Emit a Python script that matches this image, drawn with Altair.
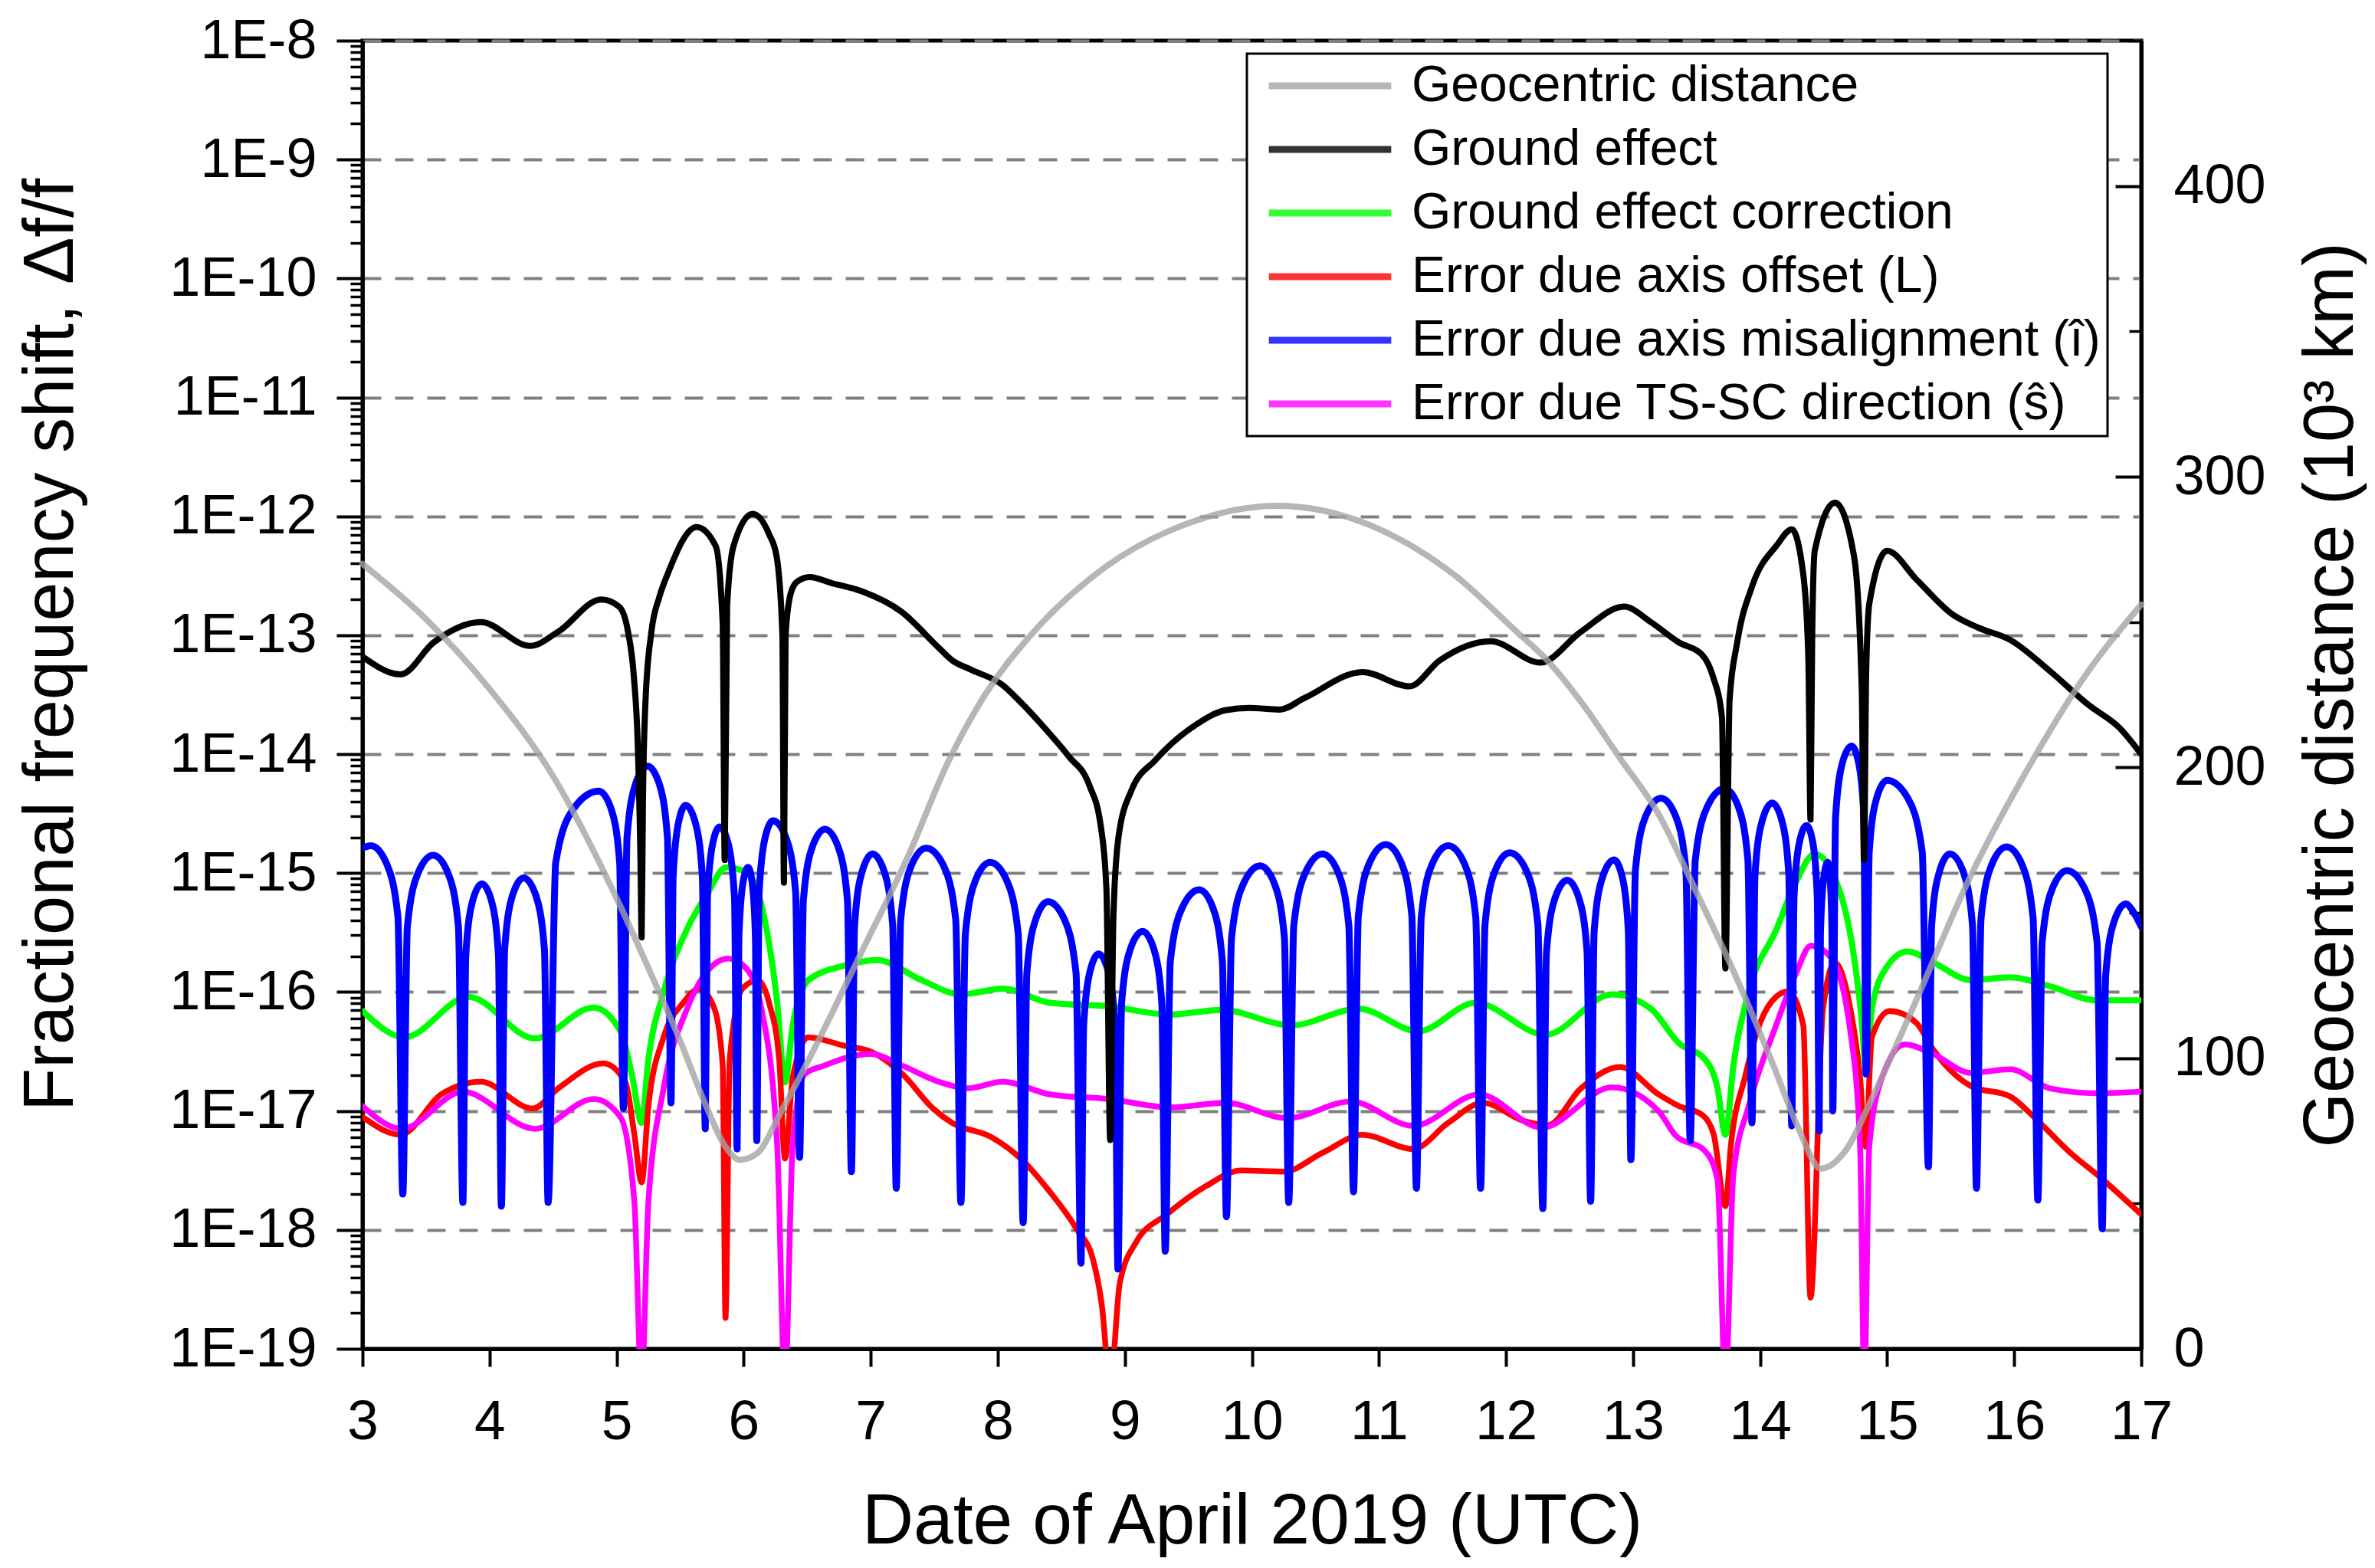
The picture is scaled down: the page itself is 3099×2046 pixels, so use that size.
import altair as alt
import pandas as pd

FONT = "Liberation Sans"

SERIES = [
    "Geocentric distance",
    "Ground effect",
    "Ground effect correction",
    "Error due axis offset (L)",
    "Error due axis misalignment (î)",
    "Error due TS-SC direction (ŝ)",
]
COLORS = ["#a4a4a4", "#000000", "#00ff00", "#ff0000", "#0000ff", "#ff00ff"]

X_TICKS = list(range(3, 18))
Y_MAJOR = [1e-19, 1e-18, 1e-17, 1e-16, 1e-15, 1e-14, 1e-13, 1e-12, 1e-11, 1e-10, 1e-9, 1e-8]
Y_MINOR = [m * 10.0 ** k for k in range(-19, -8) for m in range(2, 10)]
DIST_MAJOR = [0, 100, 200, 300, 400]
DIST_MINOR = [50, 150, 250, 350, 450]

# Geocentric distance (10^3 km), right axis
GEO_DAY = [3.0, 3.5, 4.0, 4.5, 5.0, 5.25, 5.5, 5.7, 5.85, 5.97, 6.1, 6.3, 6.6, 6.9, 7.3, 7.6, 7.9,
           8.25, 8.85, 9.5, 10.2, 11.0, 11.6, 12.1, 12.3, 12.6, 12.9, 13.2, 13.5, 13.8, 14.1, 14.3,
           14.48, 14.67, 14.89, 15.2, 15.65, 16.1, 16.55, 17.0]
GEO_DIST = [270, 251, 227, 197, 155, 131, 106, 84, 70, 65, 67, 82, 107, 134, 170, 201, 225,
            245, 269, 284, 290, 282, 266, 246, 238, 222, 203, 184, 157, 129, 98, 76,
            62, 68, 87, 117, 162, 199, 231, 256]

# Ground effect (black)
GROUND_DAY = [3.0, 3.3, 3.56, 3.93, 4.32, 4.54, 4.88, 5.02, 5.09, 5.136, 5.167, 5.188, 5.197, 5.207,
              5.228, 5.274, 5.336, 5.4, 5.63, 5.78, 5.835, 5.851, 5.87, 5.92, 6.07, 6.2, 6.26, 6.305,
              6.317, 6.33, 6.37, 6.42, 6.52, 6.69, 6.93, 7.24, 7.54, 7.64, 7.79, 8.04, 8.16, 8.41,
              8.56, 8.72, 8.81, 8.855, 8.885, 8.91, 8.95, 9.05, 9.24, 9.55, 9.79, 9.98, 10.22, 10.41,
              10.87, 11.24, 11.48, 11.88, 12.27, 12.59, 12.93, 13.14, 13.36, 13.54, 13.63, 13.7,
              13.727, 13.76, 13.82, 13.94, 14.13, 14.25, 14.34, 14.38, 14.397, 14.41, 14.43, 14.59,
              14.74, 14.8, 14.818, 14.835, 14.86, 15.0, 15.23, 15.51, 15.725, 15.97, 16.28, 16.59,
              16.83, 17.0]
GROUND_VAL = [6.61e-14, 4.68e-14, 8.71e-14, 1.29e-13, 8.13e-14, 1.07e-13, 2.0e-13, 1.74e-13, 1.07e-13,
              4.47e-14, 1.17e-14, 1.29e-15, 2.88e-16, 3.89e-15, 2.88e-14, 1.07e-13, 2.09e-13, 3.24e-13,
              8.13e-13, 5.62e-13, 1.26e-13, 1.29e-15, 1.78e-13, 5.62e-13, 1.05e-12, 7.08e-13, 4.57e-13,
              1.0e-13, 8.32e-16, 1.0e-13, 2.24e-13, 2.82e-13, 3.09e-13, 2.75e-13, 2.34e-13, 1.58e-13,
              7.76e-14, 6.17e-14, 5.13e-14, 3.80e-14, 2.88e-14, 1.48e-14, 9.55e-15, 5.50e-15, 2.51e-15,
              7.41e-16, 5.69e-18, 4.27e-16, 2.0e-15, 4.90e-15, 8.91e-15, 1.74e-14, 2.34e-14, 2.45e-14,
              2.37e-14, 2.95e-14, 4.90e-14, 3.72e-14, 6.17e-14, 8.91e-14, 5.89e-14, 1.07e-13, 1.74e-13,
              1.29e-13, 8.71e-14, 6.92e-14, 4.47e-14, 2.04e-14, 1.58e-16, 2.88e-14, 8.71e-14, 2.63e-13,
              5.69e-13, 7.76e-13, 3.24e-13, 6.31e-14, 2.82e-15, 1.0e-13, 5.13e-13, 1.30e-12, 4.57e-13,
              3.55e-14, 1.29e-15, 5.01e-14, 1.86e-13, 5.13e-13, 2.95e-13, 1.51e-13, 1.15e-13, 9.12e-14,
              5.01e-14, 2.57e-14, 1.66e-14, 1.0e-14]

# Ground effect correction (green)
CORR_DAY = [3.0, 3.33, 3.835, 4.357, 4.82, 5.03, 5.125, 5.196, 5.25, 5.37, 5.555, 5.71, 5.863, 6.02,
            6.14, 6.264, 6.325, 6.386, 6.51, 6.785, 7.05, 7.4, 7.71, 8.04, 8.41, 8.87, 9.36, 9.76,
            10.31, 10.84, 11.31, 11.76, 12.31, 12.835, 13.14, 13.36, 13.57, 13.665, 13.727, 13.79,
            13.91, 14.13, 14.28, 14.43, 14.62, 14.74, 14.8, 14.83, 14.88, 14.99, 15.16, 15.36, 15.66,
            15.97, 16.28, 16.65, 17.0]
CORR_VAL = [6.92e-17, 4.17e-17, 9.12e-17, 4.07e-17, 7.41e-17, 4.68e-17, 1.91e-17, 7.94e-18, 2.69e-17,
            1.0e-16, 3.39e-16, 6.61e-16, 1.12e-15, 1.02e-15, 5.37e-16, 8.13e-17, 1.74e-17, 5.25e-17,
            1.26e-16, 1.66e-16, 1.86e-16, 1.26e-16, 9.55e-17, 1.07e-16, 8.13e-17, 7.59e-17, 6.46e-17,
            7.08e-17, 5.25e-17, 7.24e-17, 4.68e-17, 8.13e-17, 4.37e-17, 9.55e-17, 7.24e-17, 3.72e-17,
            2.69e-17, 1.55e-17, 6.31e-18, 2.40e-17, 1.0e-16, 3.39e-16, 8.32e-16, 1.45e-15, 7.41e-16,
            1.95e-16, 5.75e-17, 2.40e-17, 7.24e-17, 1.58e-16, 2.19e-16, 1.78e-16, 1.26e-16, 1.33e-16,
            1.12e-16, 8.51e-17, 8.51e-17]

# Error due axis offset (red)
AXOFF_DAY = [3.0, 3.3, 3.62, 3.93, 4.34, 4.54, 4.895, 5.07, 5.14, 5.197, 5.25, 5.37, 5.525, 5.65, 5.77,
             5.835, 5.857, 5.89, 5.99, 6.11, 6.2, 6.28, 6.325, 6.386, 6.51, 6.785, 7.0, 7.25, 7.49,
             7.64, 7.95, 8.19, 8.41, 8.62, 8.75, 8.82, 8.885, 8.96, 9.085, 9.33, 9.64, 9.915, 10.25,
             10.56, 10.87, 11.27, 11.545, 11.82, 12.13, 12.33, 12.59, 12.9, 13.2, 13.36, 13.54, 13.635,
             13.727, 13.77, 13.88, 14.0, 14.126, 14.22, 14.34, 14.397, 14.495, 14.588, 14.71, 14.787,
             14.83, 14.88, 15.02, 15.23, 15.36, 15.66, 15.97, 16.155, 16.43, 16.68, 17.0]
AXOFF_VAL = [8.91e-18, 6.31e-18, 1.38e-17, 1.76e-17, 1.05e-17, 1.55e-17, 2.51e-17, 1.74e-17, 6.31e-18,
             2.51e-18, 1.10e-17, 4.17e-17, 8.13e-17, 1.07e-16, 7.24e-17, 2.40e-17, 1.82e-19, 2.69e-17,
             1.07e-16, 1.26e-16, 8.13e-17, 2.69e-17, 3.98e-18, 1.91e-17, 4.17e-17, 3.55e-17, 3.16e-17,
             2.04e-17, 1.05e-17, 7.94e-18, 6.03e-18, 3.89e-18, 2.09e-18, 1.02e-18, 5.62e-19, 2.29e-19,
             5.0e-20, 3.55e-19, 7.76e-19, 1.35e-18, 2.34e-18, 3.16e-18, 3.09e-18, 4.47e-18, 6.31e-18,
             4.79e-18, 7.94e-18, 1.17e-17, 8.32e-18, 7.59e-18, 1.55e-17, 2.34e-17, 1.38e-17, 1.10e-17,
             9.33e-18, 6.31e-18, 1.58e-18, 5.13e-18, 1.91e-17, 5.50e-17, 9.12e-17, 1.01e-16, 5.25e-17,
             2.69e-19, 7.24e-17, 1.76e-16, 7.24e-17, 1.91e-17, 5.01e-18, 4.17e-17, 6.92e-17, 5.50e-17,
             3.31e-17, 1.62e-17, 1.32e-17, 8.91e-18, 4.57e-18, 2.75e-18, 1.35e-18]

# Error due axis misalignment (blue)
MISAL_DAY = [3.0, 3.066, 3.19, 3.279, 3.317,
             3.353, 3.437, 3.556, 3.673, 3.755, 3.79,
             3.813, 3.865, 3.94, 4.017, 4.07, 4.093,
             4.119, 4.18, 4.268, 4.365, 4.432, 4.461,
             4.521, 4.66, 4.86, 4.957, 5.024, 5.053,
             5.082, 5.149, 5.244, 5.336, 5.40, 5.428,
             5.445, 5.486, 5.544, 5.621, 5.675, 5.698,
             5.715, 5.755, 5.811, 5.88, 5.928, 5.949,
             5.962, 5.992, 6.035, 6.069, 6.093, 6.103,
             6.122, 6.167, 6.231, 6.336, 6.409, 6.44,
             6.47, 6.54, 6.64, 6.744, 6.817, 6.848,
             6.873, 6.931, 7.014, 7.108, 7.173, 7.201,
             7.236, 7.319, 7.437, 7.574, 7.669, 7.71,
             7.745, 7.825, 7.94, 8.07, 8.161, 8.20,
             8.229, 8.298, 8.395, 8.525, 8.616, 8.655,
             8.676, 8.725, 8.795, 8.87, 8.923, 8.946,
             8.975, 9.043, 9.14, 9.229, 9.291, 9.318,
             9.358, 9.452, 9.585, 9.693, 9.768, 9.80,
             9.84, 9.933, 10.065, 10.178, 10.256, 10.29,
             10.33, 10.423, 10.555, 10.678, 10.763, 10.80,
             10.838, 10.927, 11.054, 11.175, 11.259, 11.295,
             11.333, 11.42, 11.546, 11.673, 11.762, 11.80,
             11.835, 11.915, 12.03, 12.16, 12.251, 12.29,
             12.319, 12.386, 12.482, 12.574, 12.638, 12.666,
             12.694, 12.758, 12.85, 12.917, 12.963, 12.983,
             13.019, 13.10, 13.22, 13.335, 13.416, 13.45,
             13.49, 13.585, 13.72, 13.828, 13.904, 13.936,
             13.96, 14.016, 14.095, 14.172, 14.226, 14.249,
             14.267, 14.308, 14.366, 14.416, 14.45, 14.465,
             14.475, 14.499, 14.532, 14.552, 14.566, 14.572,
             14.594, 14.646, 14.72, 14.777, 14.817, 14.834,
             14.859, 14.917, 15.0, 15.163, 15.276, 15.325,
             15.35, 15.41, 15.494, 15.60, 15.672, 15.703,
             15.739, 15.822, 15.94, 16.063, 16.149, 16.186,
             16.22, 16.30, 16.416, 16.555, 16.652, 16.693,
             16.72, 16.785, 16.878, 16.94, 17.0]
MISAL_VAL = [1.62e-15, 1.70e-15, 1.20e-15, 4.27e-16, 2.0e-18,
             3.55e-16, 1.0e-15, 1.41e-15, 1.0e-15, 3.55e-16, 1.70e-18,
             2.04e-16, 5.75e-16, 8.13e-16, 5.75e-16, 2.04e-16, 1.58e-18,
             2.29e-16, 6.46e-16, 9.12e-16, 6.46e-16, 2.29e-16, 1.70e-18,
             1.23e-15, 3.47e-15, 4.90e-15, 3.47e-15, 1.23e-15, 1.05e-17,
             2.0e-15, 5.62e-15, 7.94e-15, 5.62e-15, 2.0e-15, 1.17e-17,
             9.33e-16, 2.63e-15, 3.72e-15, 2.63e-15, 9.33e-16, 7.08e-18,
             6.17e-16, 1.74e-15, 2.45e-15, 1.74e-15, 6.17e-16, 4.79e-18,
             2.82e-16, 7.94e-16, 1.12e-15, 7.94e-16, 2.82e-16, 5.62e-18,
             6.92e-16, 1.95e-15, 2.75e-15, 1.95e-15, 6.92e-16, 4.07e-18,
             5.89e-16, 1.66e-15, 2.34e-15, 1.66e-15, 5.89e-16, 3.09e-18,
             3.63e-16, 1.02e-15, 1.45e-15, 1.02e-15, 3.63e-16, 2.24e-18,
             4.07e-16, 1.15e-15, 1.62e-15, 1.15e-15, 4.07e-16, 1.70e-18,
             3.09e-16, 8.71e-16, 1.23e-15, 8.71e-16, 3.09e-16, 1.15e-18,
             1.45e-16, 4.07e-16, 5.75e-16, 4.07e-16, 1.45e-16, 5.25e-19,
             5.25e-17, 1.48e-16, 2.09e-16, 1.48e-16, 5.25e-17, 4.68e-19,
             8.13e-17, 2.29e-16, 3.24e-16, 2.29e-16, 8.13e-17, 6.61e-19,
             1.82e-16, 5.13e-16, 7.24e-16, 5.13e-16, 1.82e-16, 1.29e-18,
             2.88e-16, 8.13e-16, 1.15e-15, 8.13e-16, 2.88e-16, 1.70e-18,
             3.63e-16, 1.02e-15, 1.45e-15, 1.02e-15, 3.63e-16, 2.09e-18,
             4.37e-16, 1.23e-15, 1.74e-15, 1.23e-15, 4.37e-16, 2.24e-18,
             4.27e-16, 1.20e-15, 1.70e-15, 1.20e-15, 4.27e-16, 2.24e-18,
             3.72e-16, 1.05e-15, 1.48e-15, 1.05e-15, 3.72e-16, 1.51e-18,
             2.19e-16, 6.17e-16, 8.71e-16, 6.17e-16, 2.19e-16, 1.74e-18,
             3.24e-16, 9.12e-16, 1.29e-15, 9.12e-16, 3.24e-16, 3.89e-18,
             1.07e-15, 3.02e-15, 4.27e-15, 3.02e-15, 1.07e-15, 5.62e-18,
             1.29e-15, 3.63e-15, 5.13e-15, 3.63e-15, 1.29e-15, 7.94e-18,
             9.77e-16, 2.75e-15, 3.89e-15, 2.75e-15, 9.77e-16, 7.50e-18,
             6.31e-16, 1.78e-15, 2.51e-15, 1.78e-15, 6.31e-16, 6.76e-18,
             3.09e-16, 8.71e-16, 1.23e-15, 8.71e-16, 3.09e-16, 1.0e-17,
             2.95e-15, 8.32e-15, 1.17e-14, 8.32e-15, 2.95e-15, 2.04e-17,
             1.51e-15, 4.27e-15, 6.03e-15, 4.27e-15, 1.51e-15, 3.39e-18,
             3.63e-16, 1.02e-15, 1.45e-15, 1.02e-15, 3.63e-16, 2.24e-18,
             4.17e-16, 1.17e-15, 1.66e-15, 1.17e-15, 4.17e-16, 1.78e-18,
             2.63e-16, 7.41e-16, 1.05e-15, 7.41e-16, 2.63e-16, 1.02e-18,
             1.38e-16, 3.89e-16, 5.50e-16, 4.68e-16, 3.55e-16]

# Error due TS-SC direction (magenta)
TSSC_DAY = [3.0, 3.31, 3.79, 4.357, 4.82, 5.03, 5.14, 5.196, 5.25, 5.37, 5.555, 5.71, 5.88, 6.02, 6.14,
            6.264, 6.325, 6.386, 6.48, 6.63, 7.0, 7.25, 7.55, 7.76, 8.04, 8.41, 8.87, 9.36, 9.79, 10.28,
            10.78, 11.27, 11.79, 12.28, 12.835, 13.2, 13.33, 13.57, 13.665, 13.727, 13.79, 13.91,
            14.126, 14.28, 14.4, 14.557, 14.71, 14.787, 14.82, 14.86, 14.96, 15.14, 15.36, 15.66,
            15.97, 16.28, 16.65, 17.0]
TSSC_VAL = [1.10e-17, 7.08e-18, 1.45e-17, 7.08e-18, 1.26e-17, 8.91e-18, 1.70e-18, 5.0e-20, 1.70e-18,
            1.55e-17, 7.24e-17, 1.48e-16, 1.91e-16, 1.58e-16, 7.24e-17, 5.13e-18, 5.0e-20, 5.13e-18,
            2.04e-17, 2.40e-17, 3.02e-17, 2.40e-17, 1.74e-17, 1.55e-17, 1.76e-17, 1.38e-17, 1.26e-17,
            1.07e-17, 1.17e-17, 8.71e-18, 1.20e-17, 7.50e-18, 1.38e-17, 7.24e-18, 1.58e-17, 1.0e-17,
            6.31e-18, 4.57e-18, 2.63e-18, 5.0e-20, 2.95e-18, 1.10e-17, 5.25e-17, 1.41e-16, 2.45e-16,
            1.95e-16, 4.68e-17, 5.13e-18, 5.0e-20, 5.13e-18, 1.91e-17, 3.63e-17, 3.02e-17, 2.09e-17,
            2.24e-17, 1.55e-17, 1.41e-17, 1.45e-17]


def make_df(days, vals, name, field):
    return pd.DataFrame([{"day": d, field: v, "series": name} for d, v in zip(days, vals)])


geo_df = make_df(GEO_DAY, GEO_DIST, SERIES[0], "dist")
ground_df = make_df(GROUND_DAY, GROUND_VAL, SERIES[1], "value")
corr_df = make_df(CORR_DAY, CORR_VAL, SERIES[2], "value")
axoff_df = make_df(AXOFF_DAY, AXOFF_VAL, SERIES[3], "value")
misal_df = make_df(MISAL_DAY, MISAL_VAL, SERIES[4], "value")
tssc_df = make_df(TSSC_DAY, TSSC_VAL, SERIES[5], "value")

x_scale = alt.Scale(domain=[3, 17], nice=False, zero=False)
y_scale = alt.Scale(type="log", domain=[1e-19, 1e-8], nice=False)
d_scale = alt.Scale(domain=[0, 450], nice=False, zero=True)
color_scale = alt.Scale(domain=SERIES, range=COLORS)

x_axis = alt.Axis(
    values=X_TICKS, format="d", title="Date of April 2019 (UTC)",
    tickSize=23, tickWidth=4, tickColor="black",
    labelFontSize=73, labelPadding=36, labelFlush=False, labelColor="black", labelFont=FONT,
    titleFontSize=93, titlePadding=48, titleFont=FONT, titleFontWeight="normal", titleColor="black",
    domainWidth=5, domainColor="black", grid=False,
)
X = alt.X("day:Q", scale=x_scale, axis=x_axis)

LEG = alt.Legend(
    title=None, orient="none", legendX=1154, legendY=17,
    symbolType="stroke", symbolSize=25500, symbolStrokeWidth=9, symbolOffset=15, clipHeight=66,
    labelFontSize=66, labelFont=FONT, labelColor="black", labelOffset=22, labelLimit=2000,
    rowPadding=17, padding=9, fillColor="white", strokeColor="black",
)
COLOR = alt.Color("series:N", scale=color_scale, legend=LEG)

y_axis = alt.Axis(
    orient="left", values=Y_MAJOR, labelExpr="'1E' + round(log(datum.value) / LN10)",
    labelOverlap=False, labelLimit=600, tickSize=34, tickWidth=4, tickColor="black",
    labelFontSize=72, labelPadding=26, labelColor="black", labelFont=FONT,
    grid=True, gridColor="#808080", gridDash=[24, 18], gridWidth=4,
    title="Fractional frequency shift, Δf/f", titleFontSize=92, titlePadding=160, titleY=788,
    titleFont=FONT, titleFontWeight="normal", titleColor="black", titleLimit=3000,
    domainWidth=5, domainColor="black",
)
Y = alt.Y("value:Q", scale=y_scale, axis=y_axis)


def log_line(df, width):
    return alt.Chart(df).mark_line(
        strokeWidth=width, interpolate="monotone", clip=True, strokeCap="round", strokeJoin="round"
    ).encode(x=X, y=Y, color=COLOR)


logs = alt.layer(
    log_line(corr_df, 8),
    log_line(axoff_df, 7.5),
    log_line(tssc_df, 7.5),
    log_line(misal_df, 9),
    log_line(ground_df, 8),
)

minor_axis = alt.Axis(
    orient="left", values=Y_MINOR, labels=False, domain=False, grid=False, title=None,
    tickSize=16, tickWidth=3.5, tickColor="black",
)
log_minor = alt.Chart(misal_df).mark_line(opacity=0).encode(
    x=X, y=alt.Y("value:Q", scale=y_scale, axis=minor_axis)
)

d_axis = alt.Axis(
    orient="right", values=DIST_MAJOR, format="d", ticks=False, tickSize=0,
    labelFontSize=72, labelPadding=42, labelColor="black", labelFont=FONT,
    title="Geocentric distance (10³ km)", titleAngle=270, titleBaseline="top", titleLimit=3000,
    titleFontSize=92, titlePadding=40, titleFont=FONT, titleFontWeight="normal", titleColor="black",
    domainWidth=5, domainColor="black", grid=False,
)
geo = alt.Chart(geo_df).mark_line(
    strokeWidth=8, opacity=0.8, interpolate="monotone", strokeCap="round", strokeJoin="round"
).encode(x=X, y=alt.Y("dist:Q", scale=d_scale, axis=d_axis), color=COLOR)

dmaj_axis = alt.Axis(
    orient="right", offset=-34, values=DIST_MAJOR, labels=False, domain=False, grid=False,
    title=None, tickSize=34, tickWidth=4, tickColor="black",
)
dmin_axis = alt.Axis(
    orient="right", offset=-16, values=DIST_MINOR, labels=False, domain=False, grid=False,
    title=None, tickSize=16, tickWidth=3.5, tickColor="black",
)
dmaj = alt.Chart(geo_df).mark_line(opacity=0).encode(
    x=X, y=alt.Y("dist:Q", scale=d_scale, axis=dmaj_axis)
)
dmin = alt.Chart(geo_df).mark_line(opacity=0).encode(
    x=X, y=alt.Y("dist:Q", scale=d_scale, axis=dmin_axis)
)

chart = (
    alt.layer(logs, log_minor, geo, dmaj, dmin)
    .resolve_scale(y="independent")
    .properties(width=2321, height=1707, padding={"left": 12, "top": 9, "right": 0, "bottom": 0},
                background="white")
    .configure(font=FONT)
    .configure_view(stroke="black", strokeWidth=5)
    .configure_legend(strokeWidth=3)
)

chart.save("out.html", embed_options={"renderer": "svg", "actions": False})
